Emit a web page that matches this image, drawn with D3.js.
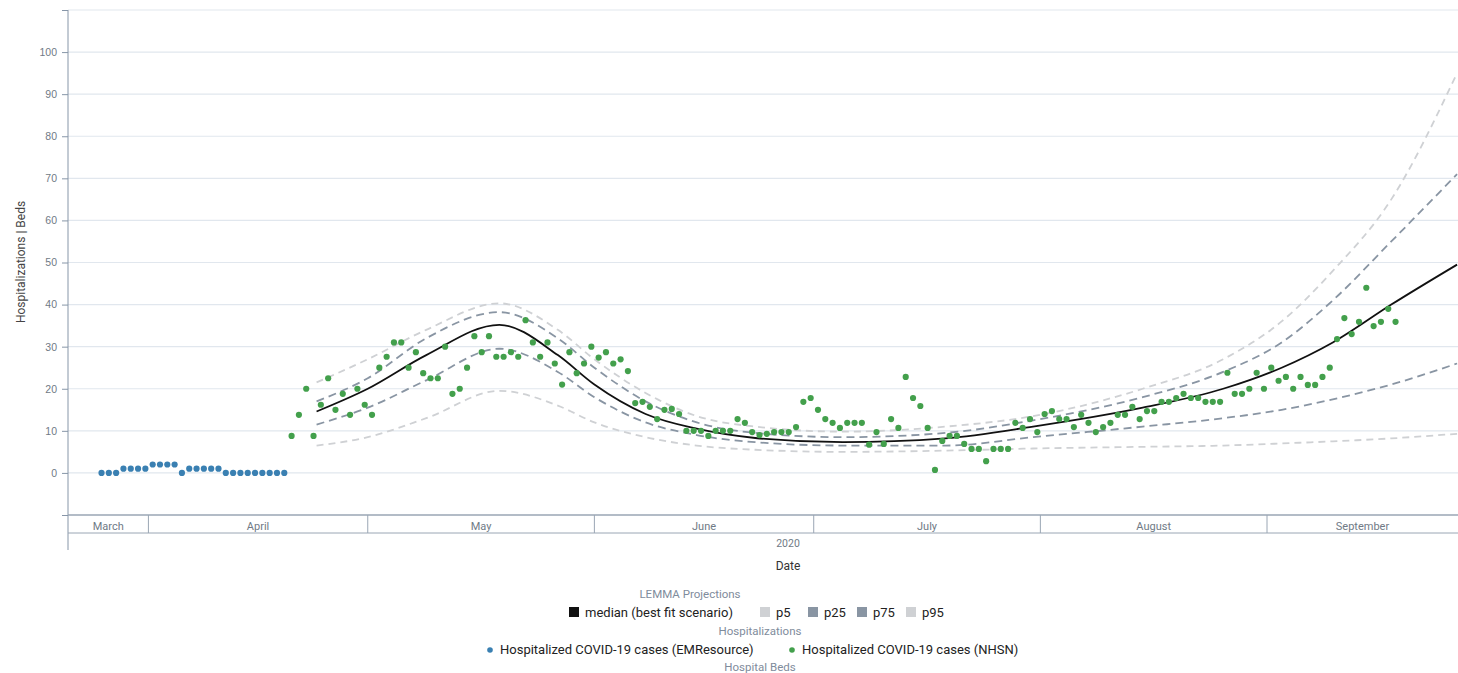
<!DOCTYPE html>
<html><head><meta charset="utf-8">
<script src="https://cdn.jsdelivr.net/npm/d3@7"></script>
<style>
body{margin:0;background:#fff;font-family:Roboto,"Liberation Sans",sans-serif}
</style></head>
<body><div id="chart"></div>
<script>
// data
const emStart = "2020-03-25";
const emValues = [0,0,0,1,1,1,1,2,2,2,2,0,1,1,1,1,1,0,0,0,0,0,0,0,0,0];
const nhsnStart = "2020-04-20";
const nhsnValues = [8.8,13.8,20,8.8,16.2,22.5,15,18.8,13.8,20,16.2,13.8,25,27.6,31,31,25,28.7,23.7,22.5,22.5,30,18.8,20,25,32.5,28.7,32.5,27.6,27.6,28.7,27.6,36.3,31,27.6,31,
  26,21,28.7,23.7,26,30,27.4,28.7,26,27,24.2,16.6,16.9,15.7,12.8,15,15.2,14,10,10,10,8.8,10,10,10,12.8,11.9,9.7,9,9.3,9.7,9.7,9.7,10.9,16.9,17.8,15,12.8,11.9,10.7,11.9,11.9,11.9,6.7,9.7,6.9,12.8,10.7,22.8,17.8,15.9,10.7,0.7,7.6,8.8,8.8,6.9,5.7,5.7,2.8,5.7,5.7,5.7,
  11.9,10.7,12.8,9.7,14,14.7,12.8,12.8,10.9,13.8,11.9,9.7,10.9,11.9,13.8,13.8,15.7,12.8,14.7,14.7,16.9,16.9,17.8,18.8,17.8,17.8,16.9,16.9,16.9,23.8,18.8,18.8,20,23.8,20,25,21.9,22.8,20,22.8,20.9,20.9,22.8,25,31.8,36.8,33,35.9,44,34.9,35.9,39,35.9];

const projDates = ["2020-04-24","2020-05-01","2020-05-09","2020-05-19","2020-05-27","2020-06-01","2020-06-08","2020-06-15","2020-06-23","2020-07-05","2020-07-19","2020-07-31","2020-08-15","2020-08-26","2020-09-03","2020-09-10","2020-09-18","2020-09-27"];
const median = [14.6,20,28,35.2,28,21,14,10.5,8.3,7.3,8.2,11,15.5,20,25,31,40,49.5];
const p5  = [6.5,8.5,13,19.5,16,12,8.5,6.5,5.5,5,5.3,5.8,6.2,6.5,7,7.5,8.2,9.3];
const p25 = [11.5,15.5,22,29.5,24,18,12,9,7.3,6.5,6.5,8.5,11,13,15,17.5,21,26];
const p75 = [17,22.5,32,38.2,32,25,17,12,9.5,8.5,9.5,12.5,18,24,31,41,55,71];
const p95 = [21.5,27,34,40.3,34,27,19,13.5,11,9.8,11,13.5,20,27,36,48,65,95];

const months = ["March","April","May","June","July","August","September"];
const yTicks = [0,10,20,30,40,50,60,70,80,90,100];

const width = 1458, height = 673;
const left = 68;
const parse = d3.utcParse("%Y-%m-%d");
const addDays = (s, i) => d3.utcHour.offset(d3.utcDay.offset(parse(s), i), 14);

const x = d3.scaleUtc()
  .domain([d3.utcHour.offset(parse("2020-03-21"), 0), d3.utcHour.offset(parse("2020-09-27"), 3)])
  .range([left, width]);
const y = d3.scaleLinear().domain([-10, 110]).range([515, 10]);

const svg = d3.select("#chart").append("svg")
  .attr("width", width).attr("height", height);

svg.append("defs").append("clipPath").attr("id","clip")
  .append("rect").attr("x", left).attr("y", 10).attr("width", width - left).attr("height", 505);

// grid
svg.append("g").selectAll("line").data(yTicks.concat([110])).join("line")
  .attr("x1", left).attr("x2", width).attr("y1", d => y(d)).attr("y2", d => y(d))
  .attr("stroke", "#e1e7ee").attr("stroke-width", 1.2);

// y axis
const ya = svg.append("g").attr("transform", `translate(${left},0)`)
  .call(d3.axisLeft(y).tickValues(yTicks.concat([-10,110])).tickSize(6).tickFormat(d => d < 0 || d > 100 ? "" : d));
ya.select(".domain").remove();
ya.selectAll("line").attr("stroke", "#8796a8");
ya.selectAll("text").attr("fill", "#707a86").style("font-size", "10.5px").attr("x", -11);
svg.append("line").attr("x1", left).attr("x2", left).attr("y1", 10).attr("y2", 550)
  .attr("stroke", "#8796a8");

svg.append("text").attr("transform", "translate(25,262) rotate(-90)")
  .attr("text-anchor", "middle").attr("fill", "#444").style("font-size", "12px")
  .text("Hospitalizations | Beds");

// month band
const monthStarts = months.map((d, i) => d3.max([x.domain()[0], new Date(Date.UTC(2020, 2 + i, 1))]));
const band = svg.append("g");
band.append("line").attr("x1", left).attr("x2", width).attr("y1", 515).attr("y2", 515).attr("stroke", "#9aa6b4").attr("stroke-width", 1.5);
band.append("line").attr("x1", left).attr("x2", width).attr("y1", 533).attr("y2", 533).attr("stroke", "#9aa6b4");
band.selectAll(".sep").data(monthStarts.slice(1)).join("line")
  .attr("x1", d => x(d)).attr("x2", d => x(d)).attr("y1", 515).attr("y2", 533).attr("stroke", "#9aa6b4");
band.selectAll("text").data(months).join("text")
  .attr("x", (d, i) => (x(monthStarts[i]) + (i < 6 ? x(monthStarts[i + 1]) : width)) / 2)
  .attr("y", 530).attr("text-anchor", "middle").attr("fill", "#707a86").style("font-size", "11px")
  .text(d => d);
svg.append("text").attr("x", 788).attr("y", 547).attr("text-anchor", "middle")
  .attr("fill", "#707a86").style("font-size", "10.5px").text("2020");
svg.append("text").attr("x", 788).attr("y", 570).attr("text-anchor", "middle")
  .attr("fill", "#333").style("font-size", "12px").text("Date");

// projections
const plot = svg.append("g").attr("clip-path", "url(#clip)");
const line = d3.line().x((d, i) => x(parse(projDates[i]))).y(d => y(d)).curve(d3.curveMonotoneX);
const series = [
  {v: p5, c: "#cfd1d4", dash: "7,5", w: 1.8},
  {v: p95, c: "#cfd1d4", dash: "7,5", w: 1.8},
  {v: p25, c: "#8995a3", dash: "8,5", w: 1.8},
  {v: p75, c: "#8995a3", dash: "8,5", w: 1.8},
  {v: median, c: "#111", dash: null, w: 1.8}
];
plot.selectAll(".proj").data(series).join("path")
  .attr("d", d => line(d.v)).attr("fill", "none")
  .attr("stroke", d => d.c).attr("stroke-width", d => d.w).attr("stroke-dasharray", d => d.dash);

plot.selectAll(".em").data(emValues).join("circle")
  .attr("cx", (d, i) => x(addDays(emStart, i))).attr("cy", d => y(d)).attr("r", 3.1)
  .attr("fill", "#3a80b2");
plot.selectAll(".nh").data(nhsnValues).join("circle")
  .attr("cx", (d, i) => x(addDays(nhsnStart, i))).attr("cy", d => y(d)).attr("r", 3.1)
  .attr("fill", "#43a04c");

// legend
const lg = svg.append("g").style("font-size", "13px");
lg.append("text").attr("x", 690).attr("y", 598).attr("text-anchor", "middle").attr("fill", "#7f8c9c").style("font-size", "11.5px").text("LEMMA Projections");
lg.append("text").attr("x", 760).attr("y", 635).attr("text-anchor", "middle").attr("fill", "#7f8c9c").style("font-size", "11.5px").text("Hospitalizations");
lg.append("text").attr("x", 760).attr("y", 671).attr("text-anchor", "middle").attr("fill", "#7f8c9c").style("font-size", "11.5px").text("Hospital Beds");

const items = [
  {t: "median (best fit scenario)", c: "#111", x: 569},
  {t: "p5", c: "#cfd1d4", x: 760},
  {t: "p25", c: "#8995a3", x: 808},
  {t: "p75", c: "#8995a3", x: 857},
  {t: "p95", c: "#cfd1d4", x: 906}
];
lg.selectAll(".it").data(items).join("rect")
  .attr("x", d => d.x).attr("y", 607).attr("width", 10).attr("height", 10).attr("fill", d => d.c);
lg.selectAll(".itt").data(items).join("text")
  .attr("x", d => d.x + 16).attr("y", 617).attr("fill", "#222").text(d => d.t);

const dots = [
  {t: "Hospitalized COVID-19 cases (EMResource)", c: "#3a80b2", x: 490},
  {t: "Hospitalized COVID-19 cases (NHSN)", c: "#43a04c", x: 792}
];
lg.selectAll(".dc").data(dots).join("circle")
  .attr("cx", d => d.x).attr("cy", 650).attr("r", 2.8).attr("fill", d => d.c);
lg.selectAll(".dt").data(dots).join("text")
  .attr("x", d => d.x + 10).attr("y", 654).attr("fill", "#222").text(d => d.t);
</script>
</body></html>
